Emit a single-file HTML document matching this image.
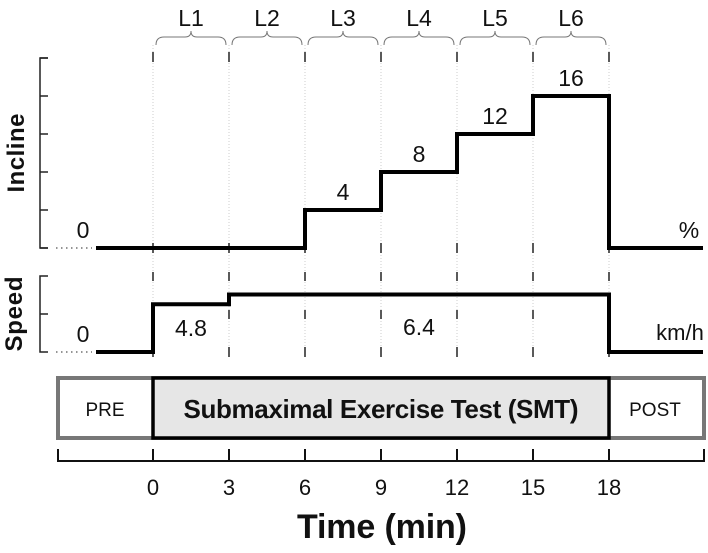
<!DOCTYPE html>
<html><head><meta charset="utf-8">
<style>
html,body{margin:0;padding:0;background:#fff;}
svg{display:block;font-family:"Liberation Sans",sans-serif;}
</style></head>
<body>
<svg id="chart" width="708" height="553" viewBox="0 0 708 553" xmlns="http://www.w3.org/2000/svg">
<g id="grid"></g>
<g id="axes"></g>
<g id="series"></g>
<g id="labels"></g>
</svg>
<script>
const stageLabels = ["L1","L2","L3","L4","L5","L6"];
const stageStarts = [0,3,6,9,12,15];
const timeTicks = [0,3,6,9,12,15,18];
const inclineValues = [0,0,4,8,12,16];
const speedValues = [4.8,6.4,6.4,6.4,6.4,6.4];
const inclineTicks = [0,4,8,12,16,20];
const stageDuration = 3;

const NS = "http://www.w3.org/2000/svg";
function X(t){ return 153 + t*(456/18); }
function yInc(v){ return 248 - v*9.5; }
function ySpd(v){ return v===0 ? 352 : 333.5 - v*6.1; }
function mk(parent, tag, attrs, text){
  const e = document.createElementNS(NS, tag);
  for (const k in attrs) e.setAttribute(k, attrs[k]);
  if (text!==undefined) e.textContent = text;
  document.getElementById(parent).appendChild(e);
  return e;
}
timeTicks.forEach(t=>{
  const x = X(t);
  const g = mk("grid","line",{x1:x,y1:45,x2:x,y2:356,stroke:"#ccc","stroke-width":1,"stroke-dasharray":"1,2"});
  
  
  [[52,62],[243,253],[272,281],[310,319],[347,357]].forEach(s=>{
    const d = mk("grid","line",{x1:x,y1:s[0],x2:x,y2:s[1],stroke:"#222","stroke-width":1.5});
    
    
  });
});
stageStarts.forEach((s,i)=>{
  const x1 = X(s)+3, x2 = X(s+stageDuration)-3, m=(x1+x2)/2;
  const p = mk("grid","path",{d:`M${x1},45 Q${x1},37 ${x1+8},37 L${m-6},37 Q${m},37 ${m},31 Q${m},37 ${m+6},37 L${x2-8},37 Q${x2},37 ${x2},45`,fill:"none",stroke:"#777","stroke-width":1});
  
  
  const t = mk("labels","text",{x:m,y:26,"font-size":23,"text-anchor":"middle",fill:"#111"},stageLabels[i]);
  
  
});
let a = mk("axes","path",{d:"M48,58 L40,58 L40,248 L48,248",fill:"none",stroke:"#222","stroke-width":1.5});


inclineTicks.forEach(v=>{
  const tk = mk("axes","line",{x1:40,y1:yInc(v),x2:48,y2:yInc(v),stroke:"#222","stroke-width":1.5});
  
  
});
a = mk("axes","path",{d:"M48,276 L40,276 L40,352 L48,352 M40,314 L48,314",fill:"none",stroke:"#222","stroke-width":1.5});


a = mk("axes","line",{x1:56,y1:248,x2:92,y2:248,stroke:"#555","stroke-width":1.2,"stroke-dasharray":"1.5,3.5"});


a = mk("axes","line",{x1:56,y1:352,x2:92,y2:352,stroke:"#555","stroke-width":1.2,"stroke-dasharray":"1.5,3.5"});


let d = `M96,${yInc(0)}`;
stageStarts.forEach((s,i)=>{ d += ` L${X(s)},${yInc(i?inclineValues[i-1]:0)} L${X(s)},${yInc(inclineValues[i])}`; });
d += ` L${X(18)},${yInc(inclineValues[5])} L${X(18)},${yInc(0)} L703,${yInc(0)}`;
const inc = mk("series","path",{d:d,fill:"none",stroke:"#000","stroke-width":4});


d = `M96,${ySpd(0)}`;
stageStarts.forEach((s,i)=>{ d += ` L${X(s)},${ySpd(i?speedValues[i-1]:0)} L${X(s)},${ySpd(speedValues[i])}`; });
d += ` L${X(18)},${ySpd(speedValues[5])} L${X(18)},${ySpd(0)} L703,${ySpd(0)}`;
const sp = mk("series","path",{d:d,fill:"none",stroke:"#000","stroke-width":4});


inclineValues.forEach((v,i)=>{
  if (v===0) return;
  const t = mk("labels","text",{x:X(stageStarts[i]+1.5),y:yInc(v)-10,"font-size":23,"text-anchor":"middle",fill:"#111"},String(v));
  
  
});
let t = mk("labels","text",{x:83,y:238,"font-size":23,"text-anchor":"middle",fill:"#111"},"0");
 
t = mk("labels","text",{x:689,y:238,"font-size":23,"text-anchor":"middle",fill:"#111"},"%");
 
t = mk("labels","text",{x:83,y:342,"font-size":23,"text-anchor":"middle",fill:"#111"},"0");
 
t = mk("labels","text",{x:X(1.5),y:336,"font-size":23,"text-anchor":"middle",fill:"#111"},String(speedValues[0]));
 
t = mk("labels","text",{x:X(10.5),y:335,"font-size":23,"text-anchor":"middle",fill:"#111"},String(speedValues[1]));
 
t = mk("labels","text",{x:680,y:340,"font-size":22,"text-anchor":"middle",fill:"#111"},"km/h");
 
t = mk("labels","text",{x:0,y:0,"font-size":24,"font-weight":"bold","text-anchor":"middle",fill:"#111",textLength:79,transform:"translate(24,153) rotate(-90)"},"Incline");
 
t = mk("labels","text",{x:0,y:0,"font-size":24,"font-weight":"bold","text-anchor":"middle",fill:"#111",textLength:75,transform:"translate(22,314) rotate(-90)"},"Speed");
 
let r = mk("axes","rect",{x:58,y:378,width:646,height:60,fill:"#fff",stroke:"#777","stroke-width":4});
 
r = mk("axes","rect",{x:X(0),y:378,width:X(18)-X(0),height:60,fill:"#e6e6e6",stroke:"#000","stroke-width":3.5});
 
t = mk("labels","text",{x:105,y:416,"font-size":19,"text-anchor":"middle",fill:"#111"},"PRE");
 
t = mk("labels","text",{x:655,y:416,"font-size":19,"text-anchor":"middle",fill:"#111"},"POST");
 
t = mk("labels","text",{x:X(9),y:418,"font-size":26,"font-weight":"bold","text-anchor":"middle",fill:"#111",textLength:395},"Submaximal Exercise Test (SMT)");
 
a = mk("axes","path",{d:"M58,449 L58,461 L704,461 L704,449",fill:"none",stroke:"#111","stroke-width":2});
 
timeTicks.forEach(v=>{
  const tk = mk("axes","line",{x1:X(v),y1:449,x2:X(v),y2:461,stroke:"#111","stroke-width":2});
   
  const tl = mk("labels","text",{x:X(v),y:495,"font-size":22,"text-anchor":"middle",fill:"#111"},String(v));
   
});
t = mk("labels","text",{x:382,y:538,"font-size":34,"font-weight":"bold","text-anchor":"middle",fill:"#111",textLength:170},"Time (min)");
 
</script>
</body></html>
